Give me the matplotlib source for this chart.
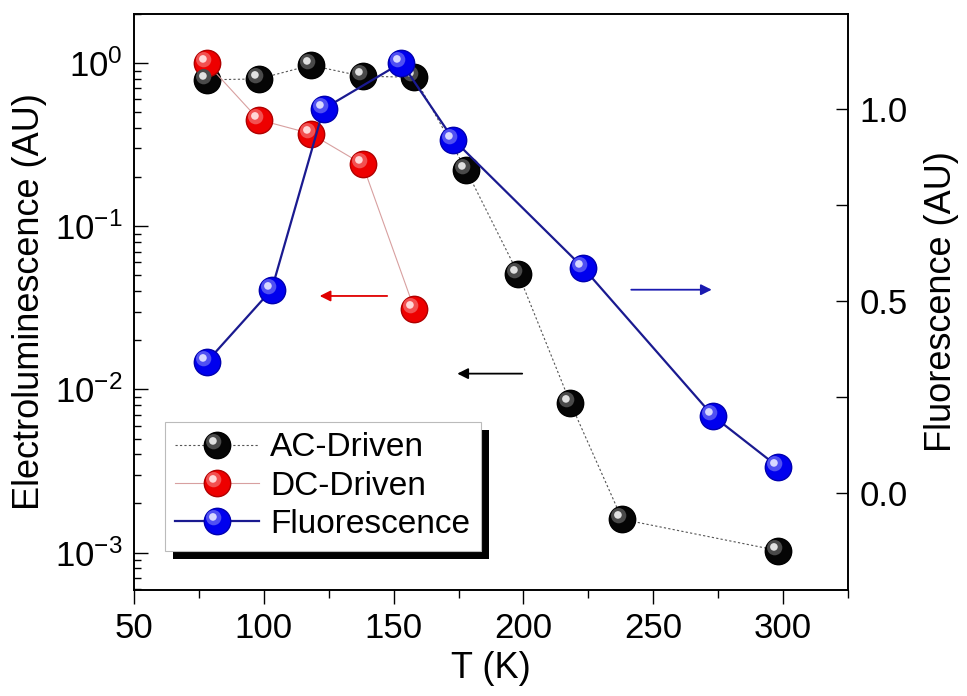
import numpy as np
import matplotlib
matplotlib.use("Agg")
import matplotlib.pyplot as plt
from matplotlib.markers import MarkerStyle
from matplotlib.transforms import Affine2D
from matplotlib.legend_handler import HandlerTuple
from matplotlib.patches import Rectangle

plt.rcParams["font.family"] = ["Liberation Sans", "DejaVu Sans"]
plt.rcParams["axes.unicode_minus"] = False

# data
T_ac = [78, 98, 118, 138, 158, 178, 198, 218, 238, 298]
el_ac = [0.79, 0.80, 0.97, 0.83, 0.82, 0.22, 0.051, 0.0083, 0.0016, 0.00103]

T_dc = [78, 98, 118, 138, 158]
el_dc = [1.0, 0.45, 0.37, 0.24, 0.031]

T_fl = [78, 103, 123, 153, 173, 223, 273, 298]
fl = [0.341, 0.529, 1.0, 1.12, 0.92, 0.586, 0.20, 0.068]

# arrows: (x_start, x_end, y)
arrow_dc = (147.5, 121.5, 0.0374)
arrow_ac = (199.5, 174.5, 0.0125)
arrow_fl = (241.5, 272.5, 0.529)

fig = plt.figure(figsize=(9.67, 6.96), dpi=100)
ax = fig.add_axes([0.1386, 0.1523, 0.7384, 0.8276])
ax2 = ax.twinx()

hl1 = MarkerStyle("o", transform=Affine2D().translate(-0.25, 0.25))
hl2 = MarkerStyle("o", transform=Affine2D().translate(-0.6, 0.6))


def sphere(axis, x, y, base, edge, mid, light, ls, lc, lw, label):
    line, = axis.plot(x, y, ls=ls, color=lc, lw=lw, marker="o", ms=19,
                      mfc=base, mec=edge, mew=1.0, label=label, zorder=3)
    h1, = axis.plot(x, y, ls="none", marker=hl1, ms=11, mfc=mid,
                    mec="none", zorder=3.1)
    h2, = axis.plot(x, y, ls="none", marker=hl2, ms=5.5, mfc=light,
                    mec="none", zorder=3.2)
    return (line, h1, h2)


h_ac = sphere(ax, T_ac, el_ac, "#050505", "#000000", "#4a4a4a", "#e0e0e0",
              (0, (2, 2)), "#555555", 0.8, "AC-Driven")
h_dc = sphere(ax, T_dc, el_dc, "#ee0000", "#b00000", "#f25050", "#ffd8d8",
              "-", "#d8a0a0", 0.8, "DC-Driven")
h_fl = sphere(ax2, T_fl, fl, "#0000ee", "#0000b0", "#5050f2", "#d8d8ff",
              "-", "#1a1a90", 1.6, "Fluorescence")

ax.set_yscale("log")
ax.set_xlim(50, 324)
ax.set_ylim(5.9e-4, 2.0)
ax2.set_ylim(-0.253, 1.247)

ax.set_xticks([50, 100, 150, 200, 250, 300])
ax.set_xticks([75, 125, 175, 225, 275, 325], minor=True)
ax2.set_yticks([0.0, 0.5, 1.0])
ax2.set_yticks([0.25, 0.75], minor=True)
ax2.set_yticklabels(["0.0", "0.5", "1.0"])

ax.tick_params(axis="x", which="major", direction="out", length=10, width=1,
               labelsize=25, pad=6)
ax.tick_params(axis="x", which="minor", direction="out", length=6, width=1)
ax.tick_params(axis="y", which="major", direction="in", length=10, width=1,
               labelsize=25, pad=8)
ax.tick_params(axis="y", which="minor", direction="in", length=5, width=1)
ax2.tick_params(axis="y", which="major", direction="in", length=9, width=1,
                labelsize=25, pad=8)
ax2.tick_params(axis="y", which="minor", direction="in", length=9, width=1)

ax.set_xlabel("T (K)", fontsize=26, labelpad=4)
ax.set_ylabel("Electroluminescence (AU)", fontsize=26, labelpad=6)
ax2.set_ylabel("Fluorescence (AU)", fontsize=26, labelpad=12)

for a in (ax, ax2):
    for s in a.spines.values():
        s.set_linewidth(1.2)

arrow_kw = dict(arrowstyle="-|>", lw=1.3, mutation_scale=16,
                shrinkA=0, shrinkB=0)
ax.annotate("", xy=(arrow_dc[1], arrow_dc[2]), xytext=(arrow_dc[0], arrow_dc[2]),
            arrowprops=dict(color="#e00000", **arrow_kw))
ax.annotate("", xy=(arrow_ac[1], arrow_ac[2]), xytext=(arrow_ac[0], arrow_ac[2]),
            arrowprops=dict(color="#000000", **arrow_kw))
ax2.annotate("", xy=(arrow_fl[1], arrow_fl[2]), xytext=(arrow_fl[0], arrow_fl[2]),
             arrowprops=dict(color="#1a1ab0", **arrow_kw))

leg = ax2.legend([h_ac, h_dc, h_fl], ["AC-Driven", "DC-Driven", "Fluorescence"],
                 handler_map={tuple: HandlerTuple(ndivide=1, pad=0)},
                 loc="upper left", bbox_to_anchor=(0.043, 0.292),
                 borderaxespad=0, fontsize=24, frameon=True, fancybox=False,
                 edgecolor="#bbbbbb", framealpha=1, handlelength=2.5,
                 handletextpad=0.35, labelspacing=0.22, borderpad=0.32)
leg.get_frame().set_linewidth(0.8)

# hard black drop shadow behind the legend box
fig.canvas.draw()
bb = leg.get_window_extent()
shadow = Rectangle((bb.x0 + 8, bb.y0 - 8), bb.width, bb.height,
                   transform=None, facecolor="black", edgecolor="none",
                   zorder=4.5)
ax2.add_artist(shadow)

fig.savefig("out.png", dpi=100)
